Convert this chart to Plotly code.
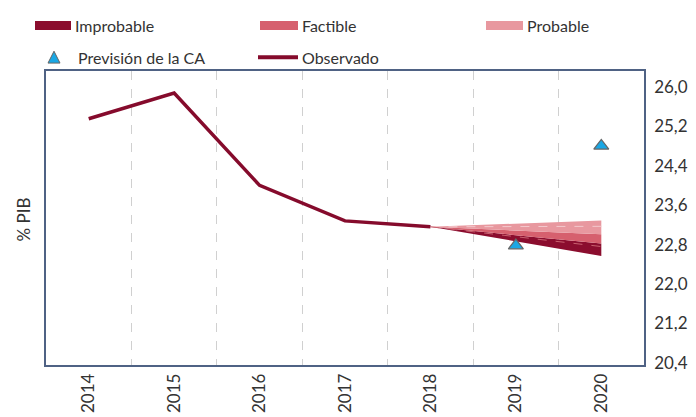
import plotly.graph_objects as go

years = ['2014', '2015', '2016', '2017', '2018', '2019', '2020']
observado = [25.35, 25.87, 24.0, 23.28, 23.16]
obs_years = years[:5]

prev_years = ['2019', '2020']
prevision = [22.78, 24.8]

fan_years = ['2018', '2019', '2020']
fan_low = [23.16, 22.87, 22.57]
fan_imp_top = [23.16, 22.99, 22.82]
fan_fac_top = [23.16, 23.09, 23.01]
fan_prob_top = [23.16, 23.23, 23.29]
fan_dash_hi = [23.16, 23.17, 23.17]
fan_dash_lo = [23.16, 22.96, 22.76]

y_ticks = [20.4, 21.2, 22.0, 22.8, 23.6, 24.4, 25.2, 26.0]

C_IMP = '#8B0D2E'
C_FAC = '#D6606E'
C_PROB = '#E8989F'
C_OBS = '#850B2C'
C_TRI = '#1AA7E4'
TXT = '#333333'
FONT = 'Lato'

fig = go.Figure()
fig.add_trace(go.Scatter(x=fan_years, y=fan_low, mode='lines', line=dict(width=0),
                         showlegend=False, hoverinfo='skip'))
fig.add_trace(go.Scatter(x=fan_years, y=fan_imp_top, mode='lines', line=dict(width=0),
                         fill='tonexty', fillcolor=C_IMP, showlegend=False))
fig.add_trace(go.Scatter(x=fan_years, y=fan_fac_top, mode='lines', line=dict(width=0),
                         fill='tonexty', fillcolor=C_FAC, showlegend=False))
fig.add_trace(go.Scatter(x=fan_years, y=fan_prob_top, mode='lines', line=dict(width=0),
                         fill='tonexty', fillcolor=C_PROB, showlegend=False))
fig.add_trace(go.Scatter(x=fan_years, y=fan_dash_hi, mode='lines',
                         line=dict(width=1, color='#F4C9CD', dash='dash'), showlegend=False))
fig.add_trace(go.Scatter(x=fan_years, y=fan_dash_lo, mode='lines',
                         line=dict(width=1, color='#C9606E', dash='dash'), showlegend=False))
fig.add_trace(go.Scatter(x=obs_years, y=observado, mode='lines',
                         line=dict(width=3.5, color=C_OBS), showlegend=False))
fig.add_trace(go.Scatter(x=prev_years, y=prevision, mode='markers',
                         marker=dict(symbol='triangle-up', size=13, color=C_TRI,
                                     line=dict(width=1.2, color='#666666')),
                         showlegend=False))

L, R, T, B = 38, 636, 63, 360
W, H = 696, 417


def px(x):
    return (x - L) / (R - L)


def py(y):
    return (B - y) / (B - T)


shapes = []
annotations = []
# legend row 1
ry1 = 17
for x0, x1, col, label in [(27, 63, C_IMP, 'Improbable'), (252, 290, C_FAC, 'Factible'),
                           (478, 515, C_PROB, 'Probable')]:
    shapes.append(dict(type='rect', xref='paper', yref='paper', x0=px(x0), x1=px(x1),
                       y0=py(ry1 + 4.5), y1=py(ry1 - 4.5), fillcolor=col, line=dict(width=0)))
    annotations.append(dict(xref='paper', yref='paper', x=px(x1 + 2), y=py(ry1), text=label,
                            showarrow=False, xanchor='left', yanchor='middle',
                            font=dict(size=16, color=TXT, family=FONT)))
# legend row 2
tx, ty = 46, 49
shapes.append(dict(type='path', xref='paper', yref='paper',
                   path=f'M {px(tx-6)} {py(ty+6)} L {px(tx+6)} {py(ty+6)} L {px(tx)} {py(ty-6)} Z',
                   fillcolor=C_TRI, line=dict(width=1, color='#666666')))
annotations.append(dict(xref='paper', yref='paper', x=px(68), y=py(ty), text='Previsión de la CA',
                        showarrow=False, xanchor='left', yanchor='middle',
                        font=dict(size=16, color=TXT, family=FONT)))
shapes.append(dict(type='line', xref='paper', yref='paper', x0=px(250), x1=px(290),
                   y0=py(ty), y1=py(ty), line=dict(width=4, color=C_OBS)))
annotations.append(dict(xref='paper', yref='paper', x=px(292), y=py(ty), text='Observado',
                        showarrow=False, xanchor='left', yanchor='middle',
                        font=dict(size=16, color=TXT, family=FONT)))
# y title
annotations.append(dict(xref='paper', yref='paper', x=px(15), y=py(213), text='% PIB',
                        showarrow=False, textangle=-90, xanchor='center', yanchor='middle',
                        font=dict(size=17, color=TXT, family=FONT)))

fig.update_layout(
    width=W, height=H,
    margin=dict(l=L, r=W - R, t=T, b=H - B),
    paper_bgcolor='white', plot_bgcolor='white',
    separators=',.',
    font=dict(family=FONT, size=16, color=TXT),
    shapes=shapes, annotations=annotations,
    showlegend=False,
)
fig.update_xaxes(
    type='category', categoryorder='array', categoryarray=years,
    tickson='boundaries', showgrid=True, gridcolor='#D0D0D0', griddash='dash', gridwidth=1,
    showline=True, mirror=True, linecolor='#4F6284', linewidth=1.5,
    ticks='outside', ticklen=12, tickcolor='rgba(0,0,0,0)', tickangle=-90,
    tickfont=dict(size=17, color=TXT, family=FONT), range=[-0.5, 6.5],
)
fig.update_yaxes(
    side='right', range=[20.36, 26.317], tickvals=y_ticks, tickformat='.1f',
    showgrid=False, zeroline=False,
    showline=True, mirror=True, linecolor='#4F6284', linewidth=1.5,
    ticks='outside', ticklen=5, tickcolor='rgba(0,0,0,0)',
    tickfont=dict(size=17, color=TXT, family=FONT),
)

fig.write_html('out.html')
